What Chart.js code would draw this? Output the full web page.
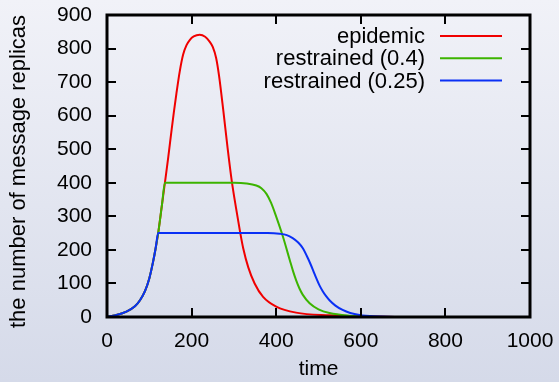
<!DOCTYPE html>
<html>
<head>
<meta charset="utf-8">
<script src="https://cdn.jsdelivr.net/npm/chart.js@4"></script>
<style>
html,body{margin:0;padding:0}
body{width:559px;height:382px;background:linear-gradient(#f1f2f8,#d5dae9);overflow:hidden}
#wrap{position:relative;width:559px;height:382px}
</style>
</head>
<body>
<div id="wrap"><canvas id="c" width="559" height="382"></canvas></div>
<script>
// values
const seriesLabels = ['epidemic', 'restrained (0.4)', 'restrained (0.25)']
const seriesColors = ['#f00000', '#3cb400', '#0a30f5']
const xTitle = 'time'
const yTitle = 'the number of message replicas'

const epidemicTime  = [0, 20, 46, 66, 78, 90, 100, 109, 115, 121, 130, 137, 145, 152, 158, 164, 172, 180, 188, 196, 205, 219, 232, 243, 250, 258, 265, 275, 285, 295, 305, 314, 322, 334, 349, 369, 400, 447, 526, 600, 700, 1000]
const epidemicCount = [1, 5, 16, 32, 50, 78, 115, 165, 205, 250, 335, 401, 478, 550, 610, 665, 732, 782, 810, 826, 836, 841, 835, 820, 805, 772, 718, 615, 505, 405, 325, 258, 205, 148, 100, 60, 31, 13, 5, 2, 0, 0]

const r04Time  = [0, 20, 46, 66, 78, 90, 100, 109, 115, 121, 130, 137, 200, 300, 330, 353, 365, 377, 388, 400, 416, 432, 440, 447, 455, 463, 479, 500, 526, 573, 620, 700, 1000]
const r04Count = [1, 5, 16, 32, 50, 78, 115, 165, 205, 250, 335, 400, 400, 400, 398, 392, 384, 367, 340, 299, 239, 170, 136, 110, 85, 66, 41, 23, 12, 4, 1, 0, 0]

const r025Time  = [0, 20, 46, 66, 78, 90, 100, 109, 115, 121, 200, 300, 380, 408, 425, 439, 452, 463, 475, 487, 495, 502, 510, 518, 526, 540, 557, 575, 597, 632, 700, 1000]
const r025Count = [1, 5, 16, 32, 50, 78, 115, 165, 205, 250, 250, 250, 250, 248, 244, 235, 222, 205, 175, 140, 115, 95, 77, 62, 50, 34, 21, 12, 6, 2, 0, 0]

const xTicks = [0, 200, 400, 600, 800, 1000]
const yTicks = [0, 100, 200, 300, 400, 500, 600, 700, 800, 900]

const 字体 = 'Liberation Sans, Arial, sans-serif'
const 字号 = 21

function 点(ts, vs){ return ts.map((t,i)=>({x:t, y:vs[i]})) }

const 数据集 = [
  {label:seriesLabels[0], data:点(epidemicTime, epidemicCount), borderColor:seriesColors[0], order:2},
  {label:seriesLabels[1], data:点(r04Time, r04Count), borderColor:seriesColors[1], order:1},
  {label:seriesLabels[2], data:点(r025Time, r025Count), borderColor:seriesColors[2], order:0},
].map(d=>Object.assign(d,{borderWidth:2, pointRadius:0, fill:false, cubicInterpolationMode:'monotone'}))

// gnuplot style frame: thick border, inward ticks on all four sides, legend inside
const 边框 = {
  id:'frame',
  afterDatasetsDraw(chart){
    const {ctx, chartArea:a, scales:{x, y}} = chart
    ctx.save()
    ctx.strokeStyle = '#000'
    ctx.lineWidth = 2
    ctx.beginPath()
    xTicks.slice(1,-1).forEach(v=>{
      const px = Math.round(x.getPixelForValue(v))
      ctx.moveTo(px, a.bottom); ctx.lineTo(px, a.bottom-9)
      ctx.moveTo(px, a.top); ctx.lineTo(px, a.top+9)
    })
    yTicks.slice(1,-1).forEach(v=>{
      const py = Math.round(y.getPixelForValue(v))
      ctx.moveTo(a.left, py); ctx.lineTo(a.left+9, py)
      ctx.moveTo(a.right, py); ctx.lineTo(a.right-9, py)
    })
    ctx.stroke()
    ctx.lineWidth = 3
    ctx.strokeRect(a.left, a.top, a.right-a.left, a.bottom-a.top)

    // legend
    ctx.font = '22px '+字体
    ctx.textAlign = 'right'
    ctx.textBaseline = 'middle'
    chart.data.datasets.forEach((d,i)=>{
      const yy = a.top + 21 + i*22.3
      ctx.fillStyle = '#000'
      ctx.fillText(d.label, a.right-105, yy+1)
      ctx.strokeStyle = d.borderColor
      ctx.lineWidth = 2
      ctx.beginPath(); ctx.moveTo(a.right-90, yy); ctx.lineTo(a.right-28, yy); ctx.stroke()
    })

    // y axis title
    ctx.font = '22px '+字体
    ctx.textAlign = 'center'
    ctx.textBaseline = 'alphabetic'
    ctx.fillStyle = '#000'
    ctx.translate(25, (a.top+a.bottom)/2 + 5.5)
    ctx.rotate(-Math.PI/2)
    ctx.fillText(yTitle, 0, 0)
    ctx.restore()
  }
}

new Chart(document.getElementById('c'), {
  type:'line',
  data:{datasets:数据集},
  options:{
    responsive:false,
    animation:false,
    layout:{padding:{left:0, top:15, right:29, bottom:0}},
    plugins:{legend:{display:false}, tooltip:{enabled:false}},
    scales:{
      x:{
        type:'linear', min:0, max:1000,
        afterBuildTicks:s=>{ s.ticks = xTicks.map(v=>({value:v})) },
        afterFit:s=>{ s.height = 65; s.paddingLeft = 0; s.paddingRight = 0 },
        grid:{display:false, drawTicks:false}, border:{display:false},
        ticks:{color:'#000', font:{family:字体, size:字号}, padding:12, maxRotation:0, autoSkip:false, callback:v=>String(v)},
        title:{display:true, text:xTitle, color:'#000', font:{family:字体, size:字号}, padding:{top:0, bottom:0}}
      },
      y:{
        type:'linear', min:0, max:900,
        afterBuildTicks:s=>{ s.ticks = yTicks.map(v=>({value:v})) },
        afterFit:s=>{ s.width = 107; s.paddingTop = 0; s.paddingBottom = 0 },
        grid:{display:false, drawTicks:false}, border:{display:false},
        ticks:{color:'#000', font:{family:字体, size:字号}, padding:15, autoSkip:false, callback:v=>String(v)}
      }
    }
  },
  plugins:[边框]
})
</script>
</body>
</html>
